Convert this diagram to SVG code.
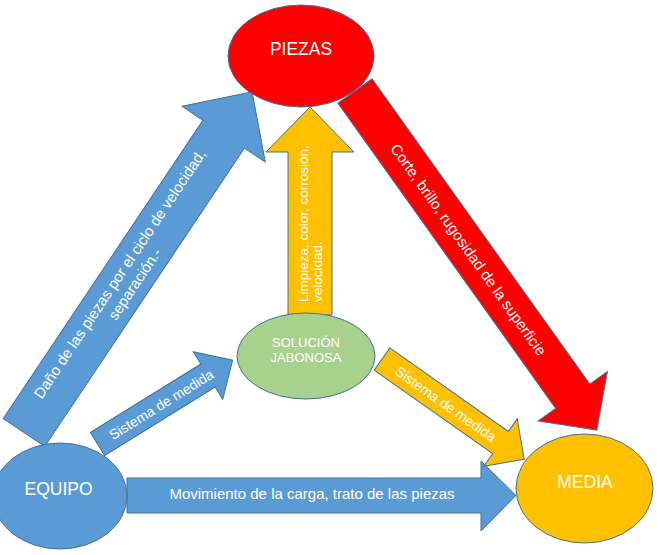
<svg xmlns="http://www.w3.org/2000/svg" width="657" height="555" viewBox="0 0 657 555">
<style>
.blue{fill:#5B9BD5;stroke:#41719C;stroke-width:1}
.red{fill:#FF0000;stroke:#41719C;stroke-width:1}
.yel{fill:#FFC000;stroke:#41719C;stroke-width:1}
.grn{fill:#A9D18E;stroke:#41719C;stroke-width:1}
text{font-family:"Liberation Sans",Arial,sans-serif;fill:#FFFFFF}
.lbl{font-size:15px;text-anchor:middle}
.sm{font-size:14px;text-anchor:middle}
.node{font-size:17.5px;text-anchor:middle}
</style>
<rect width="657" height="555" fill="#FFFFFF"/>
<g id="connectors">
  <g id="arrow-equipo-piezas" transform="translate(24,432.5) rotate(-56.2)">
    <polygon class="blue" points="0,-25 359,-25 359,-50 410,0 359,50 359,25 0,25"/>
    <text class="lbl"><tspan x="185" y="-3.5">Daño de las piezas por el ciclo de velocidad,</tspan><tspan x="185" y="14.5">separación.-</tspan></text>
  </g>
  <g id="arrow-equipo-solucion" transform="translate(97.5,444) rotate(-31.8)">
    <polygon class="blue" points="0,-13.5 130,-13.5 130,-28 159,0 130,28 130,13.5 0,13.5"/>
    <text class="sm" x="75" y="5">Sistema de medida</text>
  </g>
  <g id="arrow-solucion-piezas">
    <polygon class="yel" points="288,315 288,152 266,152 310,107 354,152 332,152 332,315"/>
    <text font-size="13.5" transform="translate(308,302) rotate(-90)"><tspan x="0" y="0">Limpieza, color, corrosión,</tspan><tspan x="0" y="14">velocidad.</tspan></text>
  </g>
  <g id="arrow-piezas-media" transform="translate(355,91) rotate(54.5)">
    <polygon class="red" points="0,-21 375,-21 375,-42.5 416.5,0 375,42.5 375,21 0,21"/>
    <text class="lbl" x="195" y="5">Corte, brillo, rugosidad de la superficie</text>
  </g>
  <g id="arrow-equipo-media">
    <polygon class="blue" points="127,478 481,478 481,461 516,495.5 481,531 481,513 127,513"/>
    <text class="lbl" x="312" y="499">Movimiento de la carga, trato de las piezas</text>
  </g>
  <g id="arrow-solucion-media" transform="translate(382,359) rotate(35.2)">
    <polygon class="yel" points="0,-13.6 145,-13.6 145,-29 174,0 145,29 145,13.6 0,13.6"/>
    <text class="sm" x="78" y="5">Sistema de medida</text>
  </g>
</g>
<g id="node-piezas">
  <ellipse class="red" cx="301" cy="56" rx="73" ry="51"/>
  <text class="node" x="301" y="55">PIEZAS</text>
</g>
<g id="node-solucion">
  <ellipse class="grn" cx="306" cy="356" rx="69" ry="43"/>
  <text font-size="13" text-anchor="middle"><tspan x="306" y="347">SOLUCIÓN</tspan><tspan x="306" y="362">JABONOSA</tspan></text>
</g>
<g id="node-equipo">
  <ellipse class="blue" cx="60" cy="496" rx="67" ry="53"/>
  <text class="node" x="58.5" y="495">EQUIPO</text>
</g>
<g id="node-media">
  <ellipse class="yel" cx="584.5" cy="488.5" rx="68.5" ry="54.5"/>
  <text class="node" x="585" y="488">MEDIA</text>
</g>
</svg>
